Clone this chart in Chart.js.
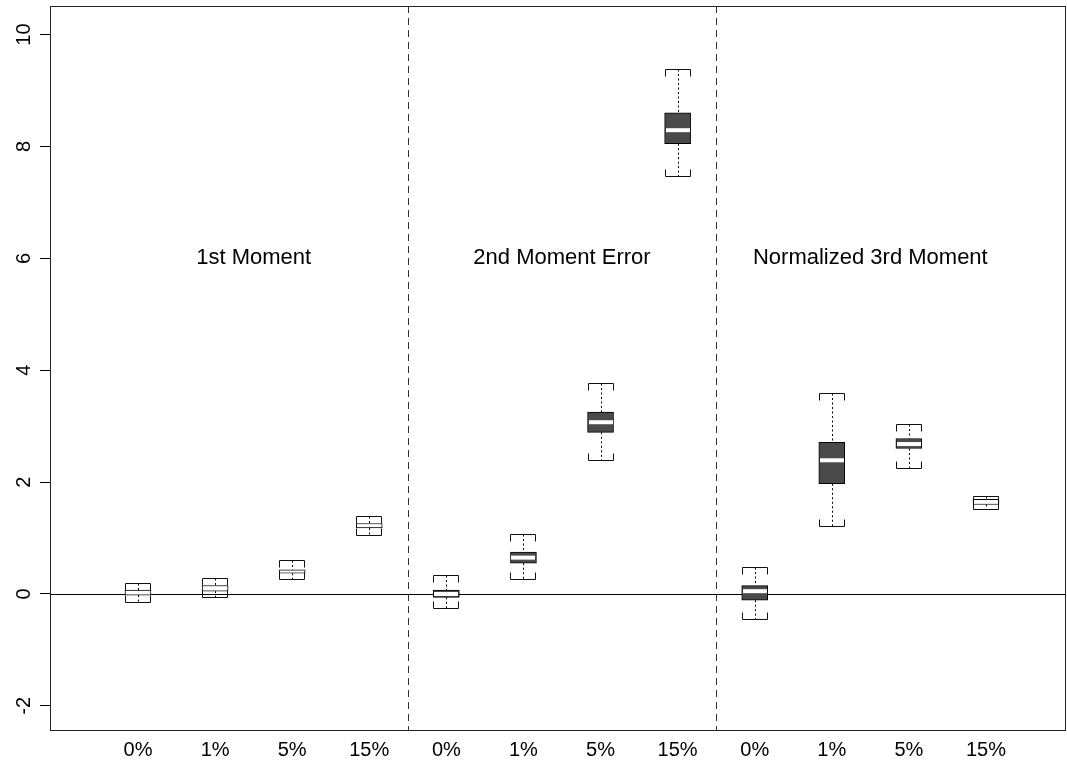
<!DOCTYPE html>
<html>
<head>
<meta charset="utf-8">
<script src="https://cdn.jsdelivr.net/npm/chart.js@4/dist/chart.umd.min.js"></script>
<style>
  html, body { margin: 0; padding: 0; background: #ffffff; }
  #wrap { width: 1067px; height: 767px; }
</style>
</head>
<body>
<div id="wrap"><canvas id="c" width="1067" height="767"></canvas></div>
<script>
// Category labels along the x axis (four contamination levels, three panels)
const categories = ['0%', '1%', '5%', '15%', '0%', '1%', '5%', '15%', '0%', '1%', '5%', '15%'];
const positions = [1, 2, 3, 4, 5, 6, 7, 8, 9, 10, 11, 12];

// Panel titles, placed at the middle of each group of four boxes
const groupNames = ['1st Moment', '2nd Moment Error', 'Normalized 3rd Moment'];
const groupCenters = [2.5, 6.5, 10.5];
const groupLabelValue = 6;
const separators = [4.5, 8.5];

// Five-number summaries, one entry per box
const whiskerLow  = [-0.14, -0.06, 0.26, 1.06,  -0.25, 0.26, 2.40, 7.47,  -0.45, 1.22, 2.26, 1.52];
const quart1      = [-0.02,  0.05, 0.37, 1.18,  -0.06, 0.55, 2.89, 8.05,  -0.11, 1.97, 2.60, 1.60];
const medians     = [ 0.02,  0.10, 0.40, 1.22,   0.00, 0.65, 3.07, 8.29,   0.05, 2.39, 2.68, 1.65];
const quart3      = [ 0.07,  0.15, 0.43, 1.26,   0.07, 0.75, 3.25, 8.60,   0.15, 2.71, 2.78, 1.69];
const whiskerHigh = [ 0.20,  0.28, 0.60, 1.40,   0.34, 1.07, 3.78, 9.39,   0.49, 3.60, 3.04, 1.75];

// Which boxes are shaded
const shaded = [false, false, false, false, true, true, true, true, true, true, true, false];

const yTicks = [-2, 0, 2, 4, 6, 8, 10];

const FONT = '"Liberation Sans", Arial, Helvetica, sans-serif';
const DARK = '#4a4a4a';

const decor = {
  id: 'boxDecor',
  beforeDatasetsDraw(chart) {
    const { ctx, chartArea: a, scales: { x, y } } = chart;
    ctx.save();
    // reference line at zero
    const y0 = Math.round(y.getPixelForValue(0)) + 0.5;
    ctx.strokeStyle = '#000';
    ctx.lineWidth = 1;
    ctx.beginPath();
    ctx.moveTo(a.left, y0);
    ctx.lineTo(a.right, y0);
    ctx.stroke();
    // dashed panel separators
    ctx.strokeStyle = '#333';
    ctx.setLineDash([7, 5]);
    separators.forEach(v => {
      const px = Math.round(x.getPixelForValue(v)) + 0.5;
      ctx.beginPath();
      ctx.moveTo(px, a.top);
      ctx.lineTo(px, a.bottom);
      ctx.stroke();
    });
    ctx.restore();
  },
  afterDatasetsDraw(chart) {
    const { ctx, scales: { y } } = chart;
    const meta = chart.getDatasetMeta(0);
    ctx.save();
    ctx.lineWidth = 1;
    meta.data.forEach((bar, i) => {
      const { x: cx, width } = bar.getProps(['x', 'width'], true);
      const left = Math.round(cx - width / 2) + 0.5;
      const right = Math.round(cx + width / 2) - 0.5;
      const mid = Math.round(cx) + 0.5;
      const yHi = Math.round(y.getPixelForValue(whiskerHigh[i])) + 0.5;
      const yLo = Math.round(y.getPixelForValue(whiskerLow[i])) + 0.5;
      const yQ3 = y.getPixelForValue(quart3[i]);
      const yQ1 = y.getPixelForValue(quart1[i]);
      const yMed = y.getPixelForValue(medians[i]);

      // dotted whiskers
      ctx.strokeStyle = '#000';
      ctx.setLineDash([2, 2.5]);
      ctx.beginPath();
      ctx.moveTo(mid, yHi);
      ctx.lineTo(mid, yQ3);
      ctx.moveTo(mid, yQ1);
      ctx.lineTo(mid, yLo);
      ctx.stroke();

      // bracket-shaped caps
      ctx.setLineDash([]);
      const tick = 7;
      ctx.strokeStyle = '#111';
      ctx.beginPath();
      ctx.moveTo(left, yHi + tick);
      ctx.lineTo(left, yHi);
      ctx.lineTo(right, yHi);
      ctx.lineTo(right, yHi + tick);
      ctx.moveTo(left, yLo - tick);
      ctx.lineTo(left, yLo);
      ctx.lineTo(right, yLo);
      ctx.lineTo(right, yLo - tick);
      ctx.stroke();

      // white median band, kept inside the box outline
      const top = Math.min(yQ3, yQ1) + 1;
      const bot = Math.max(yQ3, yQ1) - 1;
      let b0 = Math.max(yMed - 2, top);
      let b1 = Math.min(yMed + 2, bot);
      if (b1 > b0) {
        ctx.fillStyle = '#ffffff';
        ctx.fillRect(left + 0.5, b0, right - left - 1, b1 - b0);
      }
    });

    // panel titles
    ctx.fillStyle = '#000';
    ctx.font = '22px ' + FONT;
    ctx.textAlign = 'center';
    ctx.textBaseline = 'middle';
    const yl = y.getPixelForValue(groupLabelValue);
    groupNames.forEach((name, k) => {
      ctx.fillText(name, chart.scales.x.getPixelForValue(groupCenters[k]), yl);
    });
    ctx.restore();
  },
  afterDraw(chart) {
    const { ctx, chartArea: a, scales: { y } } = chart;
    ctx.save();
    // plot frame
    ctx.strokeStyle = '#222';
    ctx.lineWidth = 1;
    ctx.strokeRect(Math.round(a.left) + 0.5, Math.round(a.top) + 0.5,
                   Math.round(a.right - a.left) - 1, Math.round(a.bottom - a.top) - 1);
    // rotated y tick labels
    ctx.fillStyle = '#000';
    ctx.font = '20px ' + FONT;
    ctx.textAlign = 'center';
    ctx.textBaseline = 'middle';
    y.ticks.forEach(t => {
      const py = y.getPixelForValue(t.value);
      ctx.save();
      ctx.translate(24, py);
      ctx.rotate(-Math.PI / 2);
      ctx.fillText(String(t.value), 0, 0);
      ctx.restore();
    });
    ctx.restore();
  }
};

new Chart(document.getElementById('c'), {
  type: 'bar',
  data: {
    datasets: [{
      data: positions.map((p, i) => ({ x: p, y: [quart1[i], quart3[i]] })),
      backgroundColor: shaded.map(s => (s ? DARK : '#ffffff')),
      borderColor: '#000',
      borderWidth: 1,
      borderSkipped: false,
      barThickness: 26
    }]
  },
  options: {
    responsive: false,
    animation: false,
    devicePixelRatio: 1,
    layout: { padding: { top: 6, right: 1, bottom: 0, left: 0 } },
    plugins: { legend: { display: false }, tooltip: { enabled: false } },
    scales: {
      x: {
        type: 'linear',
        min: -0.1415,
        max: 13.038,
        offset: false,
        grid: { display: false, drawTicks: false, offset: false },
        border: { display: false },
        afterBuildTicks: s => { s.ticks = positions.map(v => ({ value: v })); },
        afterFit: s => { s.height = 36; },
        ticks: {
          autoSkip: false,
          maxRotation: 0,
          minRotation: 0,
          padding: 7,
          color: '#000',
          font: { family: FONT, size: 20 },
          callback: (v, i) => categories[i]
        }
      },
      y: {
        type: 'linear',
        min: -2.449,
        max: 10.51,
        grid: { drawOnChartArea: false, drawTicks: true, tickLength: 10, color: '#000' },
        border: { display: false },
        afterBuildTicks: s => { s.ticks = yTicks.map(v => ({ value: v })); },
        afterFit: s => { s.width = 50; },
        ticks: { display: false }
      }
    }
  },
  plugins: [decor]
});
</script>
</body>
</html>
